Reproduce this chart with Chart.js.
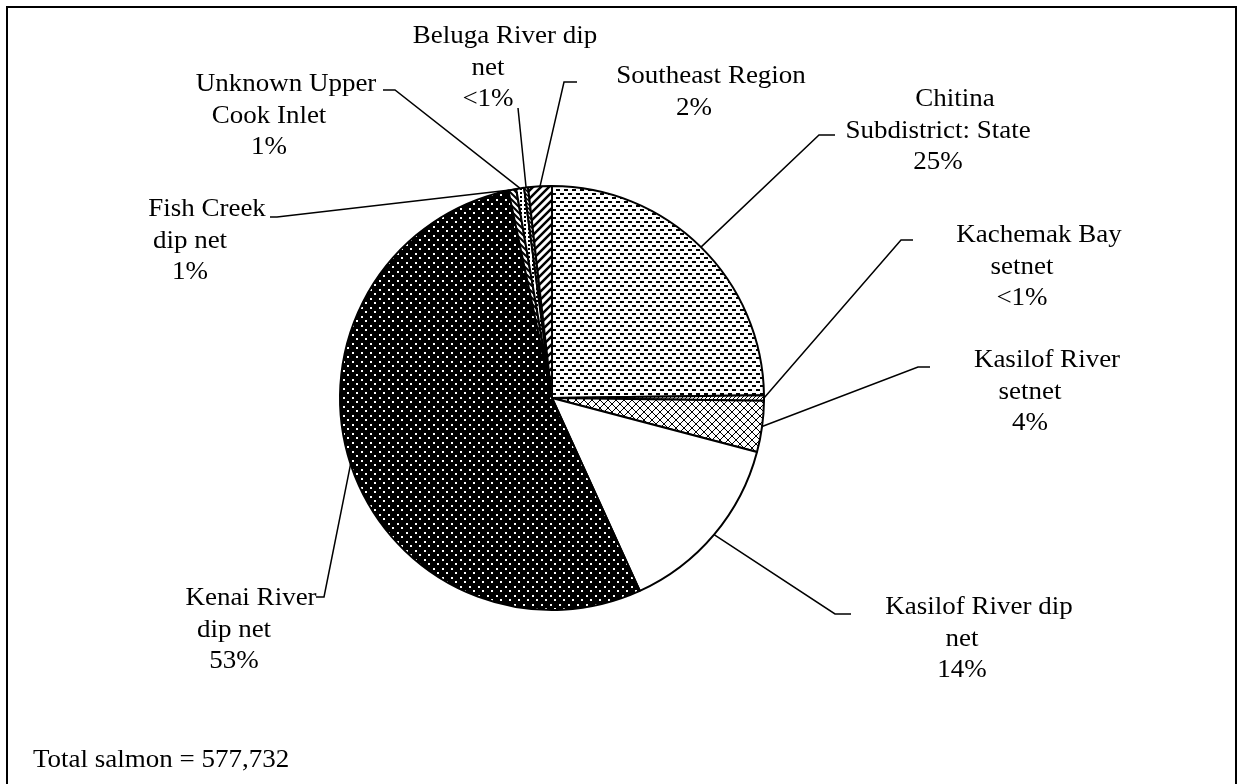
<!DOCTYPE html>
<html>
<head>
<meta charset="utf-8">
<title>Personal use salmon harvest by fishery</title>
<script src="https://cdn.jsdelivr.net/npm/chart.js@4.4.1/dist/chart.umd.min.js"></script>
<style>
  html, body { margin: 0; padding: 0; background: #fff; }
  #wrap { position: relative; width: 1244px; height: 784px; }
</style>
</head>
<body>
<div id="wrap"><canvas id="pieChart" width="1244" height="784"></canvas></div>
<script>
// Personal use salmon harvest — share by fishery (pie, black & white patterns)
// values; clockwise from 12 o'clock

var FISHERIES = [
  ['Chitina', 'Subdistrict: State'],
  ['Kachemak Bay', 'setnet'],
  ['Kasilof River', 'setnet'],
  ['Kasilof River dip', 'net'],
  ['Kenai River', 'dip net'],
  ['Fish Creek', 'dip net'],
  ['Unknown Upper', 'Cook Inlet'],
  ['Beluga River dip', 'net'],
  ['Southeast Region']
];
var SHARES = [24.8, 0.4, 3.9, 14.1, 53.5, 0.6, 0.6, 0.3, 1.8];
var PCT_LABELS = ['25%', '<1%', '4%', '14%', '53%', '1%', '1%', '<1%', '2%'];
var TOTAL_SALMON = '577,732';

(function () {
  'use strict';

  var FONT = '25px "Liberation Serif", "Times New Roman", serif';
  var TEXT_STRETCH = 1.08;     // 원본 글자가 가로로 약간 넓음
  var LINE_H = 31.5;
  var FIRST_LINE_SHIFT = 17;   // 첫 줄이 살짝 오른쪽으로 밀려 있음

  // label placement: text centre x, first baseline y, leader elbow, leader tail x
  var LABEL_POS = [
    { x: 938,  y: 106, elbow: [819, 135], tail: 835 },
    { x: 1022, y: 242, elbow: [901, 240], tail: 913 },
    { x: 1030, y: 367, elbow: [918, 367], tail: 930 },
    { x: 962,  y: 614, elbow: [835, 614], tail: 851 },
    { x: 234,  y: 605, elbow: [324, 597], tail: 316 },
    { x: 190,  y: 216, elbow: [277, 217], tail: 270 },
    { x: 269,  y: 91,  elbow: [395, 90],  tail: 383 },
    { x: 488,  y: 43,  elbow: [518, 108], tail: 518 },
    { x: 694,  y: 83,  elbow: [564, 82],  tail: 577 }
  ];

  // ────────── patterns ──────────

  function tile(w, h, draw) {
    var c = document.createElement('canvas');
    c.width = w;
    c.height = h;
    var g = c.getContext('2d');
    draw(g, w, h);
    return document.getElementById('pieChart').getContext('2d').createPattern(c, 'repeat');
  }

  function diagonal(size, width, dir, bg, fg) {
    return tile(size, size, function (g, s) {
      g.fillStyle = bg;
      g.fillRect(0, 0, s, s);
      g.strokeStyle = fg;
      g.lineWidth = width;
      g.beginPath();
      if (dir === '/') {
        g.moveTo(-2, s + 2); g.lineTo(s + 2, -2);
        g.moveTo(-2, 2); g.lineTo(2, -2);
        g.moveTo(s - 2, s + 2); g.lineTo(s + 2, s - 2);
      } else {
        g.moveTo(-2, -2); g.lineTo(s + 2, s + 2);
        g.moveTo(s - 2, -2); g.lineTo(s + 2, 2);
        g.moveTo(-2, s - 2); g.lineTo(2, s + 2);
      }
      g.stroke();
    });
  }

  function buildPatterns() {
    var dashes = tile(8, 8, function (g) {
      g.fillStyle = '#fff'; g.fillRect(0, 0, 8, 8);
      g.fillStyle = '#000';
      g.fillRect(0, 1, 4, 2);
      g.fillRect(4, 5, 4, 2);
    });
    var cross = tile(8, 8, function (g) {
      g.fillStyle = '#fff'; g.fillRect(0, 0, 8, 8);
      g.strokeStyle = '#000'; g.lineWidth = 1;
      g.beginPath();
      g.moveTo(0, 0); g.lineTo(8, 8);
      g.moveTo(8, 0); g.lineTo(0, 8);
      g.stroke();
    });
    var darkDots = tile(9, 9, function (g) {
      g.fillStyle = '#000'; g.fillRect(0, 0, 9, 9);
      g.fillStyle = '#fff';
      g.fillRect(1, 1, 2, 2);
      g.fillRect(5, 5, 2, 2);
    });
    var lightDots = tile(4, 4, function (g) {
      g.fillStyle = '#fff'; g.fillRect(0, 0, 4, 4);
      g.fillStyle = '#000'; g.fillRect(0, 0, 2, 2);
    });
    return [
      dashes,
      diagonal(4, 1, '/', '#fff', '#000'),
      cross,
      '#ffffff',
      darkDots,
      diagonal(6, 2, '\\', '#fff', '#000'),
      lightDots,
      diagonal(4, 1.5, '\\', '#fff', '#000'),
      diagonal(8, 2.5, '/', '#fff', '#000')
    ];
  }

  // ────────── labels, leaders, frame ──────────

  function stretchedText(ctx, txt, x, y) {
    ctx.save();
    ctx.translate(x, y);
    ctx.scale(TEXT_STRETCH, 1);
    ctx.fillText(txt, 0, 0);
    ctx.restore();
  }

  var decorPlugin = {
    id: 'decor',
    beforeDraw: function (chart) {
      var ctx = chart.ctx;
      ctx.save();
      ctx.fillStyle = '#fff';
      ctx.fillRect(0, 0, chart.width, chart.height);
      ctx.strokeStyle = '#000';
      ctx.lineWidth = 2;
      ctx.strokeRect(7, 7, 1229, 800);
      ctx.restore();
    },
    afterDraw: function (chart) {
      var ctx = chart.ctx;
      var arcs = chart.getDatasetMeta(0).data;
      ctx.save();
      ctx.strokeStyle = '#000';
      ctx.lineWidth = 1.5;
      ctx.fillStyle = '#000';
      ctx.font = FONT;
      ctx.textAlign = 'center';
      ctx.textBaseline = 'alphabetic';

      arcs.forEach(function (arc, i) {
        var p = arc.getProps(['x', 'y', 'startAngle', 'endAngle', 'outerRadius'], true);
        var mid = (p.startAngle + p.endAngle) / 2;
        var ax = p.x + Math.cos(mid) * p.outerRadius;
        var ay = p.y + Math.sin(mid) * p.outerRadius;
        var pos = LABEL_POS[i];

        ctx.beginPath();
        ctx.moveTo(ax, ay);
        ctx.lineTo(pos.elbow[0], pos.elbow[1]);
        ctx.lineTo(pos.tail, pos.elbow[1]);
        ctx.stroke();

        var lines = FISHERIES[i].concat([PCT_LABELS[i]]);
        lines.forEach(function (txt, k) {
          var x = pos.x + (k === 0 ? FIRST_LINE_SHIFT : 0);
          stretchedText(ctx, txt, x, pos.y + k * LINE_H);
        });
      });

      ctx.textAlign = 'left';
      stretchedText(ctx, 'Total salmon = ' + TOTAL_SALMON, 33, 767);
      ctx.restore();
    }
  };

  // ────────── chart ──────────

  function init() {
    var canvas = document.getElementById('pieChart');
    new Chart(canvas, {
      type: 'pie',
      data: {
        labels: FISHERIES,
        datasets: [{
          data: SHARES,
          backgroundColor: buildPatterns(),
          borderColor: '#000',
          borderWidth: 2
        }]
      },
      options: {
        responsive: false,
        animation: false,
        radius: 212,
        layout: { padding: { left: 340, right: 480, top: 186, bottom: 174 } },
        plugins: {
          legend: { display: false },
          tooltip: { enabled: false }
        }
      },
      plugins: [decorPlugin]
    });
  }

  init();
})();
</script>
</body>
</html>
